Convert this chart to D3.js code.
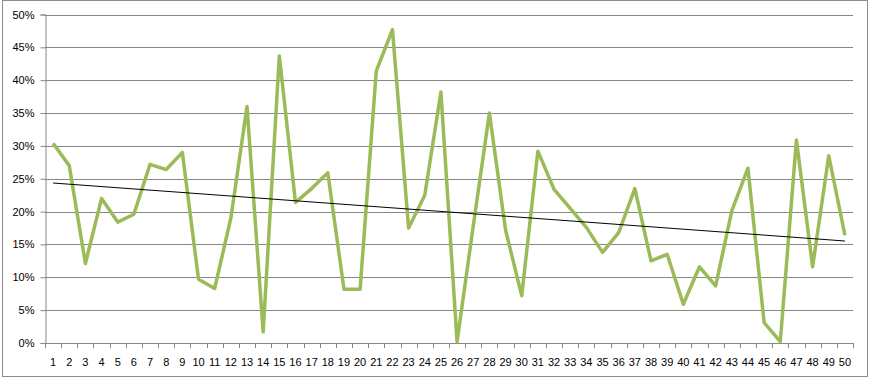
<!DOCTYPE html>
<html>
<head>
<meta charset="utf-8">
<script src="https://cdn.jsdelivr.net/npm/d3@7"></script>
<style>
  body { margin: 0; background: #fff; }
  text { font-family: "Liberation Sans", Arial, sans-serif; font-size: 11px; fill: #000; }
</style>
</head>
<body>
<script>
var categories = d3.range(1, 51);
var values = [30.4, 27.0, 12.1, 22.0, 18.4, 19.6, 27.2, 26.4, 29.0, 9.7,
              8.3, 19.0, 36.0, 1.7, 43.7, 21.4, 23.5, 25.9, 8.2, 8.2,
              41.4, 47.7, 17.5, 22.5, 38.2, 0.2, 17.8, 35.0, 17.2, 7.2,
              29.2, 23.4, 20.5, 17.6, 13.8, 16.8, 23.5, 12.5, 13.5, 5.9,
              11.6, 8.7, 20.1, 26.6, 3.1, 0.2, 30.9, 11.6, 28.5, 16.4];
var yTicks = [0, 5, 10, 15, 20, 25, 30, 35, 40, 45, 50];

var width = 871, height = 380;
var plotLeft = 45, plotRight = 853, plotTop = 14.5, plotBottom = 343;

var svg = d3.select("body").append("svg")
    .attr("width", width)
    .attr("height", height);

// chart area frame
svg.append("rect")
    .attr("x", 2.5).attr("y", 0.5)
    .attr("width", 865).attr("height", 376)
    .attr("fill", "#fff")
    .attr("stroke", "#8c8c8c");

var x = d3.scaleBand().domain(categories).range([plotLeft, plotRight]);
var y = d3.scaleLinear().domain([0, 50]).range([plotBottom, plotTop]);

// gridlines
svg.append("g")
    .selectAll("line")
    .data(yTicks.slice(1))
    .enter()
        .append("line")
        .attr("x1", plotLeft).attr("x2", plotRight)
        .attr("y1", function (d) { return Math.round(y(d)) + 0.5; })
        .attr("y2", function (d) { return Math.round(y(d)) + 0.5; })
        .attr("stroke", "#868686");

// y axis
var yAxis = d3.axisLeft(y)
    .tickValues(yTicks)
    .tickSize(5)
    .tickPadding(6)
    .tickFormat(function (d) { return d + "%"; });

var gy = svg.append("g")
    .attr("transform", "translate(" + (plotLeft + 0.5) + ",0)")
    .call(yAxis);
gy.select(".domain").attr("stroke", "#868686");
gy.selectAll(".tick line").attr("stroke", "#868686");
gy.selectAll(".tick text").attr("fill", "#000").style("font-family", "Liberation Sans, Arial, sans-serif").style("font-size", "11px");

// x axis
var xAxis = d3.axisBottom(x).tickSize(0).tickPadding(15);
var gx = svg.append("g")
    .attr("transform", "translate(0," + (Math.round(plotBottom) + 0.5) + ")")
    .call(xAxis);
gx.select(".domain").attr("stroke", "#868686").attr("d", "M" + plotLeft + ",0H" + plotRight);
gx.selectAll(".tick text").attr("fill", "#000").style("font-family", "Liberation Sans, Arial, sans-serif").style("font-size", "11px");

// x tick marks between categories
svg.append("g")
    .selectAll("line")
    .data(categories.concat([51]))
    .enter()
        .append("line")
        .attr("x1", function (d) { return Math.round(plotLeft + (d - 1) * x.step()) + 0.5; })
        .attr("x2", function (d) { return Math.round(plotLeft + (d - 1) * x.step()) + 0.5; })
        .attr("y1", Math.round(plotBottom))
        .attr("y2", Math.round(plotBottom) + 5)
        .attr("stroke", "#868686");

var cx = function (i) { return x(categories[i]) + x.bandwidth() / 2; };

// data line
var line = d3.line()
    .x(function (d, i) { return cx(i); })
    .y(function (d) { return y(d); });

svg.append("path")
    .datum(values)
    .attr("d", line)
    .attr("fill", "none")
    .attr("stroke", "#9bbb59")
    .attr("stroke-width", 3.5)
    .attr("stroke-linejoin", "round");

// linear trendline (least squares)
var n = values.length;
var mx = d3.mean(categories), my = d3.mean(values);
var sxy = d3.sum(categories, function (c, i) { return (c - mx) * (values[i] - my); });
var sxx = d3.sum(categories, function (c) { return (c - mx) * (c - mx); });
var slope = sxy / sxx, intercept = my - slope * mx;
var trend = [categories[0], categories[n - 1]];

svg.append("path")
    .datum(trend)
    .attr("d", d3.line()
        .x(function (d) { return x(d) + x.bandwidth() / 2; })
        .y(function (d) { return y(intercept + slope * d); }))
    .attr("fill", "none")
    .attr("stroke", "#000")
    .attr("stroke-width", 1);
</script>
</body>
</html>
